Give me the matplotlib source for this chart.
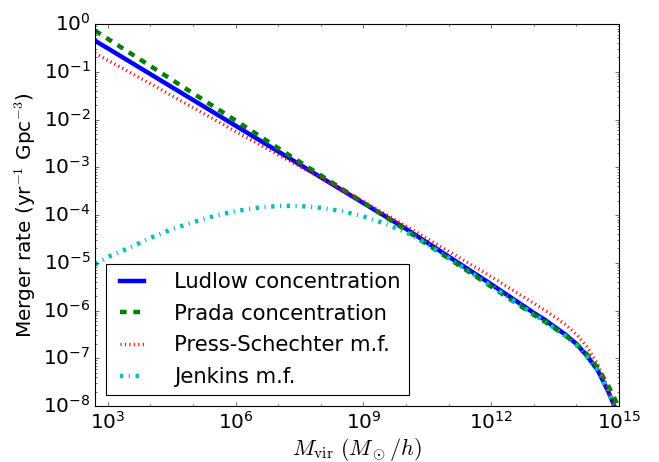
import numpy as np
import matplotlib
matplotlib.use("Agg")
import matplotlib.pyplot as plt
from matplotlib.ticker import LogLocator, NullFormatter

plt.style.use('classic')

# log10 of virial mass (M_sun/h) and log10 of merger rate (yr^-1 Gpc^-3)
logm = [2.7, 3, 4, 5, 6, 7, 8, 9, 10, 11, 12, 13, 13.25, 13.5, 13.75, 14,
        14.25, 14.5, 14.75, 14.9, 15]
ludlow = [-0.35, -0.51, -1.05, -1.59, -2.13, -2.67, -3.21, -3.75, -4.29,
          -4.87, -5.45, -6.05, -6.19, -6.35, -6.51, -6.70, -6.95, -7.25,
          -7.70, -8.02, -8.25]
prada = [-0.14, -0.31, -0.88, -1.45, -2.02, -2.60, -3.17, -3.74, -4.32,
         -4.91, -5.50, -6.09, -6.23, -6.38, -6.53, -6.70, -6.92, -7.20,
         -7.58, -7.85, -8.05]
press_schechter = [-0.61, -0.76, -1.25, -1.75, -2.25, -2.74, -3.22, -3.72, -4.23,
                   -4.76, -5.29, -5.85, -5.99, -6.14, -6.30, -6.50, -6.76, -7.12,
                   -7.66, -8.05, -8.30]

logm_j = [2.7, 3, 3.5, 4, 4.5, 5, 5.5, 6, 6.5, 7, 7.5, 8, 8.5, 9, 9.5, 10,
          10.5, 11, 12, 13, 13.25, 13.5, 13.75, 14, 14.25, 14.5, 14.75, 14.9, 15]
jenkins = [-5.03, -4.88, -4.69, -4.48, -4.30, -4.15, -4.02, -3.92, -3.85, -3.81,
           -3.81, -3.85, -3.92, -4.03, -4.18, -4.36, -4.61, -4.90, -5.48, -6.08,
           -6.22, -6.38, -6.54, -6.72, -6.97, -7.26, -7.70, -8.04, -8.25]

labels = ["Ludlow concentration", "Prada concentration",
          "Press-Schechter m.f.", "Jenkins m.f."]

fig = plt.figure(figsize=(659/80, 462/80), dpi=80)
ax = fig.add_axes([95/659, 1-406/462, (619-95)/659, (406-24)/462])

m = 10**np.array(logm)
mj = 10**np.array(logm_j)
ax.plot(m, 10**np.array(ludlow), 'b-', lw=4, label=labels[0])
ax.plot(m, 10**np.array(prada), 'g--', lw=4, label=labels[1])
ax.plot(m, 10**np.array(press_schechter), 'r:', lw=3, label=labels[2])
ax.plot(mj, 10**np.array(jenkins), 'c-.', lw=4, label=labels[3])

ax.set_xscale('log')
ax.set_yscale('log')
ax.set_xlim(10**2.7, 1e15)
ax.set_ylim(1e-8, 1)
ax.xaxis.set_major_locator(LogLocator(base=1000.0, numticks=10))
ax.xaxis.set_minor_locator(LogLocator(base=10.0, subs=(1.0,), numticks=20))
ax.xaxis.set_minor_formatter(NullFormatter())
ax.yaxis.set_major_locator(LogLocator(base=10.0, numticks=20))
ax.yaxis.set_minor_locator(LogLocator(base=10.0, subs=np.arange(2, 10), numticks=20))
ax.yaxis.set_minor_formatter(NullFormatter())
ax.tick_params(labelsize=18)

ax.set_xlabel(r'$M_{\rm vir}\ (M_\odot/h)$', fontsize=20, labelpad=3)
ax.set_ylabel(r'Merger rate (yr$^{-1}$ Gpc$^{-3}$)', fontsize=18)

ax.legend(loc='lower left', fontsize=19, handlelength=1.7, handletextpad=1.15,
          labelspacing=0.55)

fig.savefig('out.png', dpi=80)
